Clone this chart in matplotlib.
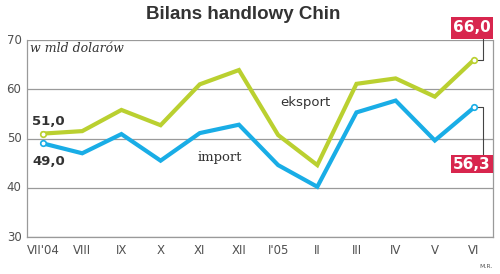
import matplotlib.pyplot as plt
from matplotlib.patches import Rectangle

months = ["VII'04", "VIII", "IX", "X", "XI", "XII", "I'05", "II", "III", "IV", "V", "VI"]
eksport = [51.0, 51.5, 55.8, 52.7, 61.0, 63.9, 50.7, 44.6, 61.1, 62.2, 58.5, 66.0]
imp = [49.0, 47.0, 50.9, 45.5, 51.1, 52.8, 44.6, 40.2, 55.3, 57.7, 49.6, 56.3]

GREEN = "#bad030"
BLUE = "#19ade6"
RED = "#d8264e"
GRID = "#9a9a9a"

fig = plt.figure(figsize=(5.0, 2.74), dpi=100)
ax = fig.add_axes([0.054, 0.135, 0.932, 0.719])

x = list(range(len(months)))
ax.plot(x, eksport, color=GREEN, lw=3.0, solid_joinstyle="miter", zorder=3)
ax.plot(x, imp, color=BLUE, lw=3.0, solid_joinstyle="miter", zorder=3)

# end markers
for s, c in ((eksport, GREEN), (imp, BLUE)):
    ax.plot([x[0], x[-1]], [s[0], s[-1]], "o", ms=4, mfc="white", mec=c, mew=1.2, zorder=4)

ax.set_xlim(-0.41, 11.485)
ax.set_ylim(30, 70)
ax.set_yticks([30, 40, 50, 60, 70])
ax.set_xticks(x)
ax.set_xticklabels(months)
ax.yaxis.grid(True, color=GRID, lw=0.9)
ax.set_axisbelow(True)
for side in ("left", "bottom", "right"):
    ax.spines[side].set_color(GRID)
    ax.spines[side].set_linewidth(0.9)
ax.spines["top"].set_visible(False)
ax.tick_params(length=0, colors="#505050", labelsize=8.5)
ax.tick_params(axis="y", pad=4)
ax.tick_params(axis="x", pad=5)
for t in ax.get_yticklabels():
    t.set_verticalalignment("center")
    t.set_fontfamily("DejaVu Sans")
for t in ax.get_xticklabels():
    t.set_fontfamily("DejaVu Sans")

fig.text(0.487, 0.947, "Bilans handlowy Chin", ha="center", va="center",
         fontsize=13.5, fontweight="bold", color="#333333", family="Liberation Sans")

ax.text(-0.33, 68.2, "w mld dolarów", ha="left", va="center", style="italic",
        fontsize=9, family="DejaVu Serif", color="#333333")

ax.text(6.69, 57.4, "eksport", ha="center", va="center", fontsize=9.5, color="#333333")
ax.text(4.52, 46.2, "import", ha="center", va="center", fontsize=9.5,
        family="DejaVu Serif", color="#333333")

ax.text(-0.28, 53.4, f"{eksport[0]:.1f}".replace(".", ","), ha="left", va="center",
        fontsize=9.5, fontweight="bold", color="#333333")
ax.text(-0.28, 45.4, f"{imp[0]:.1f}".replace(".", ","), ha="left", va="center",
        fontsize=9.5, fontweight="bold", color="#333333")

# red value boxes with connectors
cx = 11.22
ax.plot([x[-1] + 0.1, cx, cx], [eksport[-1], eksport[-1], 70.3], color="#444444",
        lw=0.8, clip_on=False, zorder=2)
ax.plot([x[-1] + 0.1, cx, cx], [imp[-1], imp[-1], 46.6], color="#444444",
        lw=0.8, clip_on=False, zorder=2)
for y0, y1, val in ((70.3, 74.7, eksport[-1]), (42.9, 46.65, imp[-1])):
    ax.add_patch(Rectangle((10.42, y0), 11.48 - 10.42, y1 - y0, facecolor=RED,
                           edgecolor="none", clip_on=False, zorder=5))
    ax.text((10.42 + 11.48) / 2, (y0 + y1) / 2, f"{val:.1f}".replace(".", ","),
            ha="center", va="center", color="white", fontsize=11, fontweight="bold",
            zorder=6, clip_on=False)

fig.text(0.985, 0.02, "M.R.", ha="right", va="bottom", fontsize=4.5, color="#555555")

fig.savefig("out.png", dpi=100)
